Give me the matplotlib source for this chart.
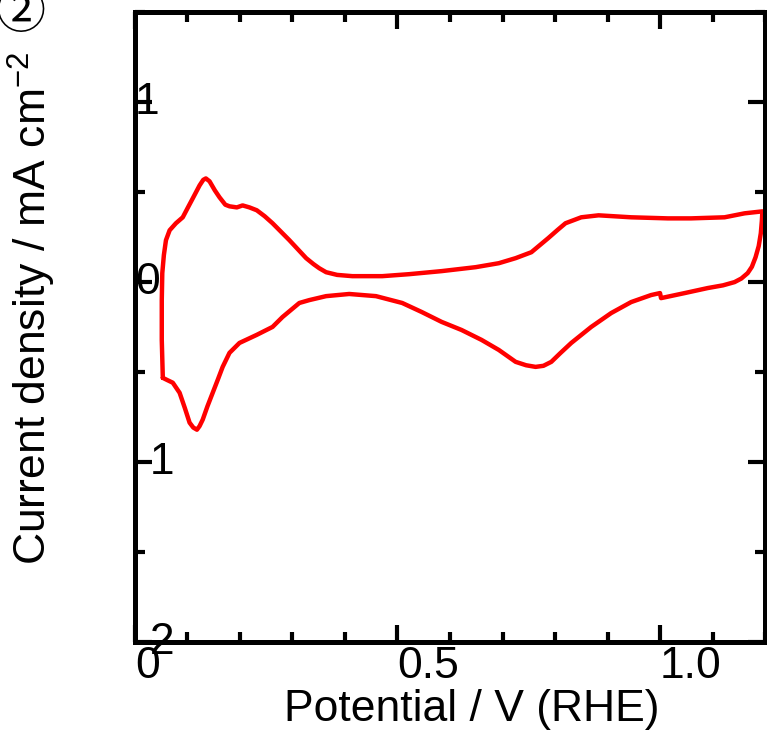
import matplotlib
matplotlib.use("Agg")
import matplotlib.pyplot as plt
from matplotlib.ticker import MultipleLocator

plt.rcParams['font.family'] = ['Liberation Sans', 'Noto Sans CJK JP', 'DejaVu Sans']
plt.rcParams['mathtext.fontset'] = 'custom'
plt.rcParams['mathtext.rm'] = 'Liberation Sans'

# anodic sweep (upper branch), V vs RHE / mA cm-2
anodic_v = [0.053, 0.051, 0.051, 0.052, 0.055, 0.059, 0.066, 0.078, 0.091, 0.100,
            0.110, 0.123, 0.130, 0.135, 0.142, 0.152, 0.161, 0.172, 0.180, 0.194,
            0.205, 0.218, 0.232, 0.247, 0.262, 0.278, 0.294, 0.310, 0.326, 0.340,
            0.351, 0.364, 0.385, 0.414, 0.471, 0.522, 0.584, 0.649, 0.693, 0.725,
            0.755, 0.787, 0.805, 0.820, 0.850, 0.883, 0.945, 1.015, 1.059, 1.123,
            1.161, 1.195]
anodic_j = [-0.532, -0.321, -0.100, 0.050, 0.150, 0.233, 0.288, 0.327, 0.360, 0.410,
            0.465, 0.537, 0.568, 0.576, 0.560, 0.510, 0.471, 0.430, 0.421, 0.415,
            0.426, 0.415, 0.399, 0.366, 0.327, 0.280, 0.233, 0.183, 0.133, 0.100,
            0.077, 0.055, 0.040, 0.033, 0.033, 0.044, 0.061, 0.083, 0.105, 0.133,
            0.166, 0.244, 0.290, 0.327, 0.360, 0.371, 0.360, 0.354, 0.354, 0.360,
            0.382, 0.393]

# cathodic sweep (lower branch)
cathodic_v = [1.194, 1.192, 1.188, 1.182, 1.175, 1.167, 1.155, 1.142, 1.120, 1.091,
              1.047, 1.002, 1.000, 0.983, 0.945, 0.907, 0.869, 0.831, 0.810, 0.793,
              0.778, 0.763, 0.745, 0.725, 0.693, 0.660, 0.622, 0.584, 0.546, 0.509,
              0.459, 0.408, 0.364, 0.332, 0.313, 0.281, 0.262, 0.232, 0.199, 0.180,
              0.167, 0.158, 0.148, 0.138, 0.129, 0.123, 0.118, 0.111, 0.104, 0.095,
              0.085, 0.072, 0.062, 0.053]
cathodic_j = [0.340, 0.271, 0.200, 0.138, 0.085, 0.050, 0.020, 0.000, -0.018, -0.033,
              -0.061, -0.089, -0.061, -0.072, -0.111, -0.172, -0.249, -0.338, -0.395, -0.443,
              -0.465, -0.471, -0.462, -0.443, -0.377, -0.321, -0.266, -0.221, -0.166, -0.116,
              -0.078, -0.066, -0.078, -0.100, -0.116, -0.194, -0.249, -0.293, -0.338, -0.393,
              -0.471, -0.540, -0.615, -0.690, -0.764, -0.800, -0.820, -0.808, -0.781, -0.700,
              -0.615, -0.559, -0.545, -0.532]

x_ticks = [0, 0.5, 1.0]
x_labels = ["0", "0.5", "1.0"]
y_ticks = [1, 0, -1, -2]
y_labels = ["1", "0", "-1", "-2"]

fig = plt.figure(figsize=(7.67, 7.33), dpi=100)
ax = fig.add_axes([0.176, 0.124, 0.8214, 0.8595])

ax.plot(anodic_v + cathodic_v, anodic_j + cathodic_j, color="#ff0000", lw=3.2,
        solid_joinstyle="round", solid_capstyle="round")

ax.set_xlim(0, 1.2)
ax.set_ylim(-2, 1.5)

ax.set_xticks(x_ticks)
ax.set_xticklabels(x_labels, ha="left")
ax.set_yticks(y_ticks)
ax.set_yticklabels(y_labels, ha="left", va="center")
ax.xaxis.set_minor_locator(MultipleLocator(0.1))
ax.yaxis.set_minor_locator(MultipleLocator(0.5))

ax.tick_params(which="both", direction="in", top=True, right=True, width=3, labelsize=32)
ax.tick_params(which="major", length=12)
ax.tick_params(which="minor", length=7)
ax.tick_params(axis="x", which="major", pad=3)
ax.tick_params(axis="y", which="major", pad=0)

for s in ax.spines.values():
    s.set_linewidth(3.6)

ax.set_xlabel("Potential / V (RHE)", fontsize=32)
ax.xaxis.set_label_coords(0.535, -0.075)
ax.set_ylabel("Current density / mA cm$^{-2}$", fontsize=32)
ax.yaxis.set_label_coords(-0.122, 0.53)

fig.text(-0.006, 1.012, "②", fontsize=36, ha="left", va="top")

fig.savefig("out.png", dpi=100)
